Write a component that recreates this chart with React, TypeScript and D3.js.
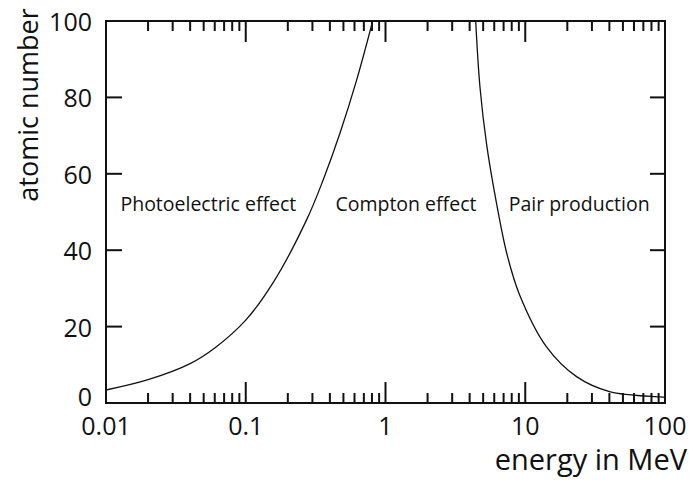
import React from "react";
import * as d3 from "d3";

const photoEnergy = [0.01, 0.02, 0.04, 0.06, 0.1, 0.157, 0.273, 0.359, 0.472, 0.622, 0.81];
const photoZ = [3.4, 6.1, 10.3, 14.4, 21.7, 31.5, 48, 58.5, 70.6, 84.6, 100];
const pairEnergy = [4.42, 4.74, 5.3, 6.25, 7.37, 9.07, 14.2, 23.3, 40, 92, 100];
const pairZ = [100, 82.8, 67.5, 52, 39.2, 28.5, 14.7, 6.9, 3.0, 1.6, 1.5];
const xTickLabels = ["0.01", "0.1", "1", "10", "100"];
const xTickValues = [0.01, 0.1, 1, 10, 100];
const yTickValues = [0, 20, 40, 60, 80, 100];
const regionLabels = ["Photoelectric effect", "Compton effect", "Pair production"];
const regionCenters = [0.054, 1.4, 24.3];

const W = 689, H = 480;
const L = 106, R = 665, T = 21, B = 403;
const FONT = "'Open Sans', sans-serif";

export default function App() {
  const x = d3.scaleLog().domain([0.01, 100]).range([L, R]);
  const y = d3.scaleLinear().domain([0, 100]).range([B, T]);
  const line = d3
    .line<[number, number]>()
    .x((d) => x(d[0]))
    .y((d) => y(d[1]))
    .curve(d3.curveCatmullRom.alpha(0.5));
  const photo = photoEnergy.map((e, i) => [e, photoZ[i]] as [number, number]);
  const pair = pairEnergy.map((e, i) => [e, pairZ[i]] as [number, number]);

  const minor: number[] = [];
  for (let dec = 0.01; dec < 100; dec *= 10) {
    for (let k = 2; k <= 9; k++) minor.push(dec * k);
  }

  return (
    <svg width={W} height={H} style={{ position: "absolute", left: 0, top: 0, background: "#fff" }}>
      <defs>
        <clipPath id="plot">
          <rect x={L} y={T} width={R - L} height={B - T} />
        </clipPath>
      </defs>
      <g clipPath="url(#plot)" fill="none" stroke="#111" strokeWidth={1.3}>
        <path d={line(photo) || ""} />
        <path d={line(pair) || ""} />
      </g>
      <g stroke="#111" strokeWidth={2}>
        {minor.map((v, i) => (
          <g key={"m" + i}>
            <line x1={x(v)} x2={x(v)} y1={B} y2={B - 10} />
            <line x1={x(v)} x2={x(v)} y1={T} y2={T + 10} />
          </g>
        ))}
        {xTickValues.map((v, i) => (
          <g key={"M" + i}>
            <line x1={x(v)} x2={x(v)} y1={B} y2={B - 21} />
            <line x1={x(v)} x2={x(v)} y1={T} y2={T + 21} />
          </g>
        ))}
        {yTickValues.map((v, i) => (
          <g key={"y" + i}>
            <line x1={L} x2={L + 16} y1={y(v)} y2={y(v)} />
            <line x1={R} x2={R - 15} y1={y(v)} y2={y(v)} />
          </g>
        ))}
        <rect x={L} y={T} width={R - L} height={B - T} fill="none" />
      </g>
      <g fontFamily={FONT} fontSize={25} fill="#111">
        {xTickValues.map((v, i) => (
          <text key={"xl" + i} x={x(v)} y={435} textAnchor="middle">
            {xTickLabels[i]}
          </text>
        ))}
        {yTickValues.map((v, i) => (
          <text key={"yl" + i} x={92} y={y(v) + (v === 0 ? 3 : 10)} textAnchor="end">
            {v}
          </text>
        ))}
      </g>
      <text x={687} y={470} textAnchor="end" fontFamily={FONT} fontSize={29} fill="#111">
        energy in MeV
      </text>
      <text
        transform={`translate(38,105) rotate(-90)`}
        textAnchor="middle"
        fontFamily={FONT}
        fontSize={27}
        fill="#111"
      >
        atomic number
      </text>
      <g fontFamily={FONT} fontSize={19.5} fill="#111">
        {regionLabels.map((t, i) => (
          <text key={"r" + i} x={x(regionCenters[i])} y={211} textAnchor="middle">
            {t}
          </text>
        ))}
      </g>
    </svg>
  );
}
